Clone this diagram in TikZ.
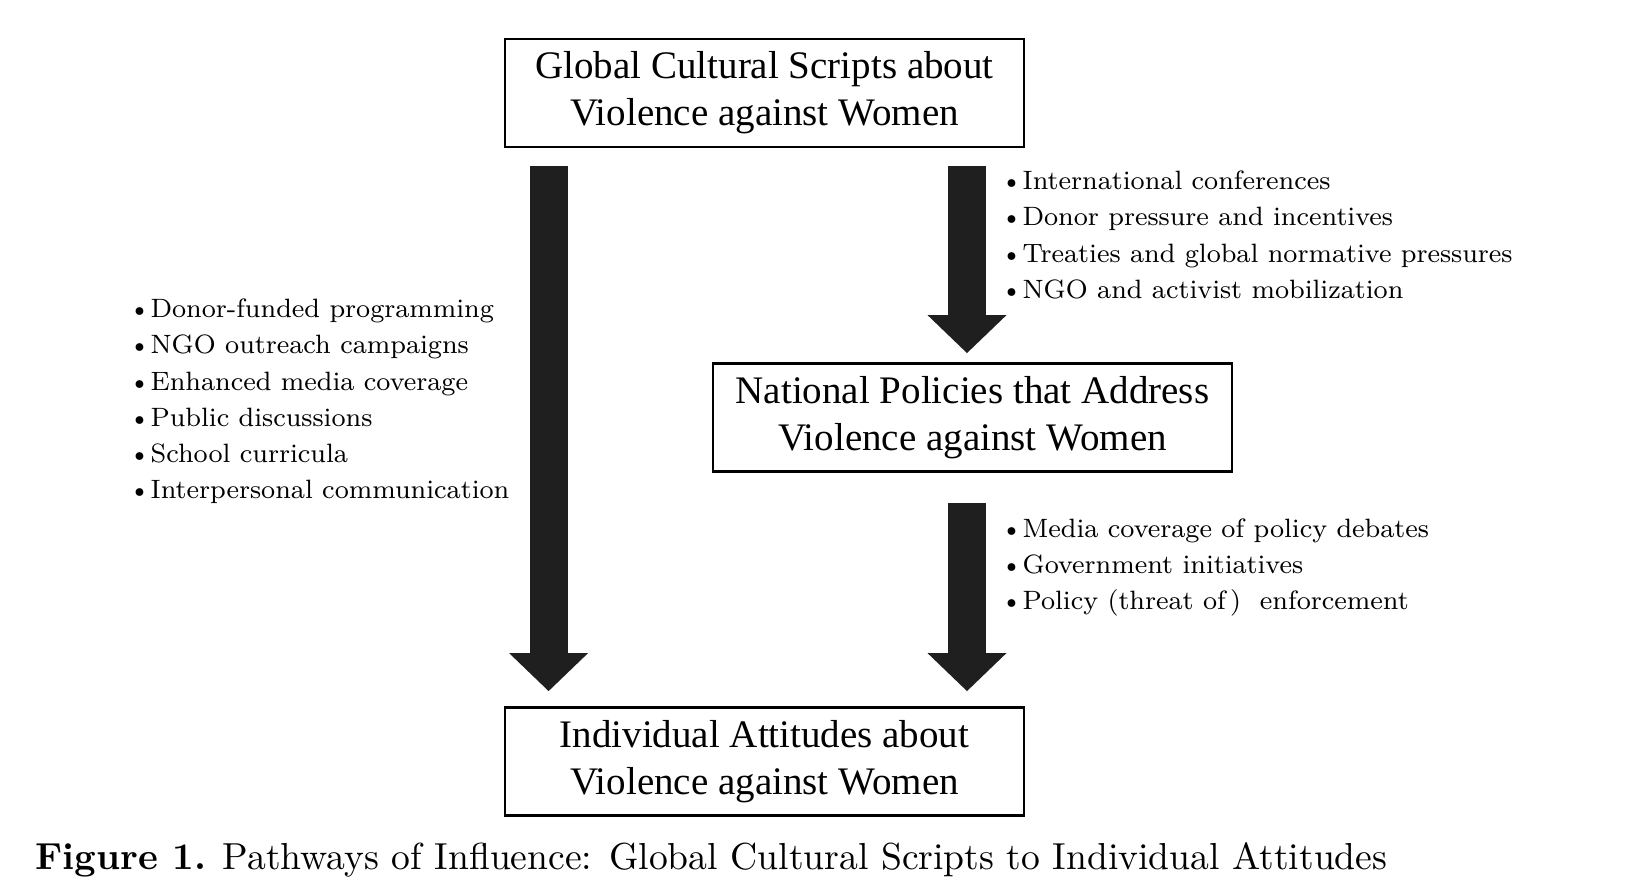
\documentclass[tikz,border=0pt]{standalone}
\usepackage{fontspec}
\newfontfamily\boxfont{Liberation Serif}
\usetikzlibrary{arrows.meta,calc}
\begin{document}
\begin{tikzpicture}[line join=miter,
	scriptbox/.style={draw,line width=0.8pt,minimum width=5.19cm,minimum height=1.08cm,align=center,font=\boxfont\fontsize{11.1}{13.4}\selectfont},
	blist/.style={anchor=west,align=left,inner sep=0pt,font=\fontsize{7.55}{10.3}\selectfont},
	bigarrow/.style={draw=black!88,line width=0.38cm,-{Triangle[width=0.79cm,length=0.38cm,line width=0pt]}}]
	\useasboundingbox (0,0) rectangle (16.5,-8.96);
	\node[scriptbox] (global) at (7.645,-0.93) {Global Cultural Scripts about\\Violence against Women};
	\node[scriptbox] (national) at (9.725,-4.175) {National Policies that Address\\Violence against Women};
	\node[scriptbox] (attitudes) at (7.645,-7.615) {Individual Attitudes about\\Violence against Women};
	\coordinate (l1) at ($(global.south west)+(0.45,-0.18)$);
	\coordinate (l2) at ($(attitudes.north west)+(0.45,0.15)$);
	\coordinate (r1) at ($(national.north)+(-0.055,0.09)$);
	\coordinate (r0) at ($(global.south -| r1)+(0,-0.18)$);
	\coordinate (r2) at ($(national.south -| r1)+(0,-0.3)$);
	\coordinate (r3) at ($(attitudes.north -| r1)+(0,0.15)$);
	\draw[bigarrow] (l1) -- (l2);
	\draw[bigarrow] (r0) -- (r1);
	\draw[bigarrow] (r2) -- (r3);
	\node[blist] (leftlist) at (1.28,-4.015) {\textbullet Donor-funded programming\\\textbullet NGO outreach campaigns\\\textbullet Enhanced media coverage\\\textbullet Public discussions\\\textbullet School curricula\\\textbullet Interpersonal communication};
	\node[blist] (toplist) at (10.0,-2.35) {\textbullet International conferences\\\textbullet Donor pressure and incentives\\\textbullet Treaties and global normative pressures\\\textbullet NGO and activist mobilization};
	\node[blist] (lowlist) at (10.0,-5.675) {\textbullet Media coverage of policy debates\\\textbullet Government initiatives\\\textbullet Policy (threat of\,) \ enforcement};
	\node[anchor=west,inner sep=0pt,font=\fontsize{10.7}{12}\selectfont] (caption) at (0.35,-8.6) {\textbf{Figure 1.} Pathways of Influence: Global Cultural Scripts to Individual Attitudes};
\end{tikzpicture}
\end{document}
